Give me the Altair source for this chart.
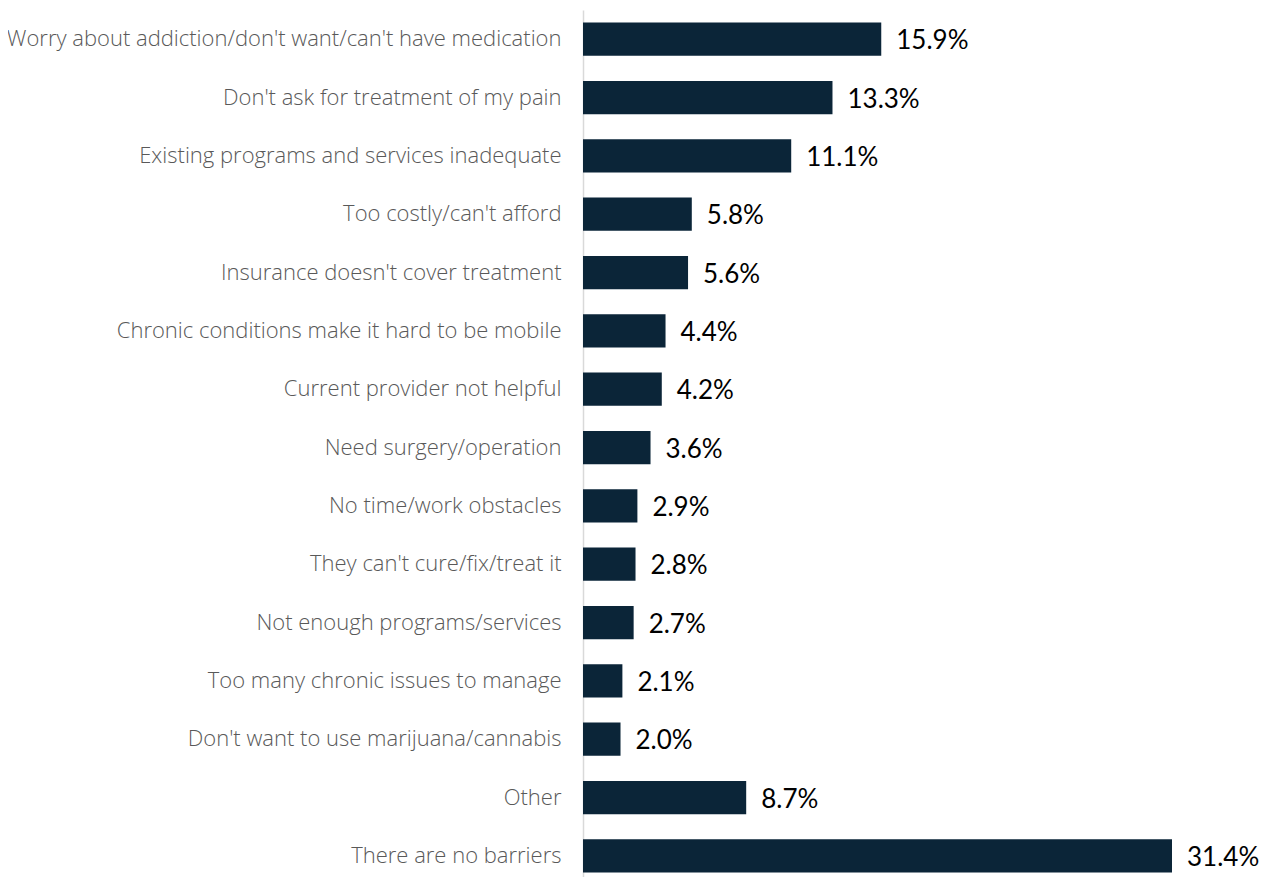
import altair as alt
import pandas as pd

categories = [
    "Worry about addiction/don't want/can't have medication",
    "Don't ask for treatment of my pain",
    "Existing programs and services inadequate",
    "Too costly/can't afford",
    "Insurance doesn't cover treatment",
    "Chronic conditions make it hard to be mobile",
    "Current provider not helpful",
    "Need surgery/operation",
    "No time/work obstacles",
    "They can't cure/fix/treat it",
    "Not enough programs/services",
    "Too many chronic issues to manage",
    "Don't want to use marijuana/cannabis",
    "Other",
    "There are no barriers",
]
values = [15.9, 13.3, 11.1, 5.8, 5.6, 4.4, 4.2, 3.6, 2.9, 2.8, 2.7, 2.1, 2.0, 8.7, 31.4]
labels = [f"{v:.1f}%" for v in values]

df = pd.DataFrame({"category": categories, "value": values, "label": labels})

y_enc = alt.Y(
    "category:N",
    sort=categories,
    title=None,
    scale=alt.Scale(paddingInner=0.43, paddingOuter=0.215),
    axis=alt.Axis(
        labelFont="Open Sans",
        labelFontSize=22,
        labelFontWeight=300,
        labelColor="#595959",
        labelPadding=22,
        ticks=False,
        domain=True,
        domainColor="#d9d9d9",
        domainWidth=1.5,
        labelLimit=700,
    ),
)
x_enc = alt.X(
    "value:Q",
    scale=alt.Scale(domain=[0, 31.4], nice=False),
    axis=None,
)

bars = alt.Chart(df).mark_bar(color="#0b2538").encode(x=x_enc, y=y_enc)
text = alt.Chart(df).mark_text(
    align="left", baseline="middle", dx=15, dy=2, font="Lato", fontSize=26, color="#000000"
).encode(x=x_enc, y=alt.Y("category:N", sort=categories), text="label:N")

chart = (
    (bars + text)
    .properties(width=589, height=875)
    .configure(
        autosize=alt.AutoSizeParams(type="none"),
        padding={"left": 575, "top": 2, "right": 95, "bottom": 0},
    )
    .configure_view(stroke=None)
)

chart.save("out.html", embed_options={"renderer": "svg", "actions": False})
